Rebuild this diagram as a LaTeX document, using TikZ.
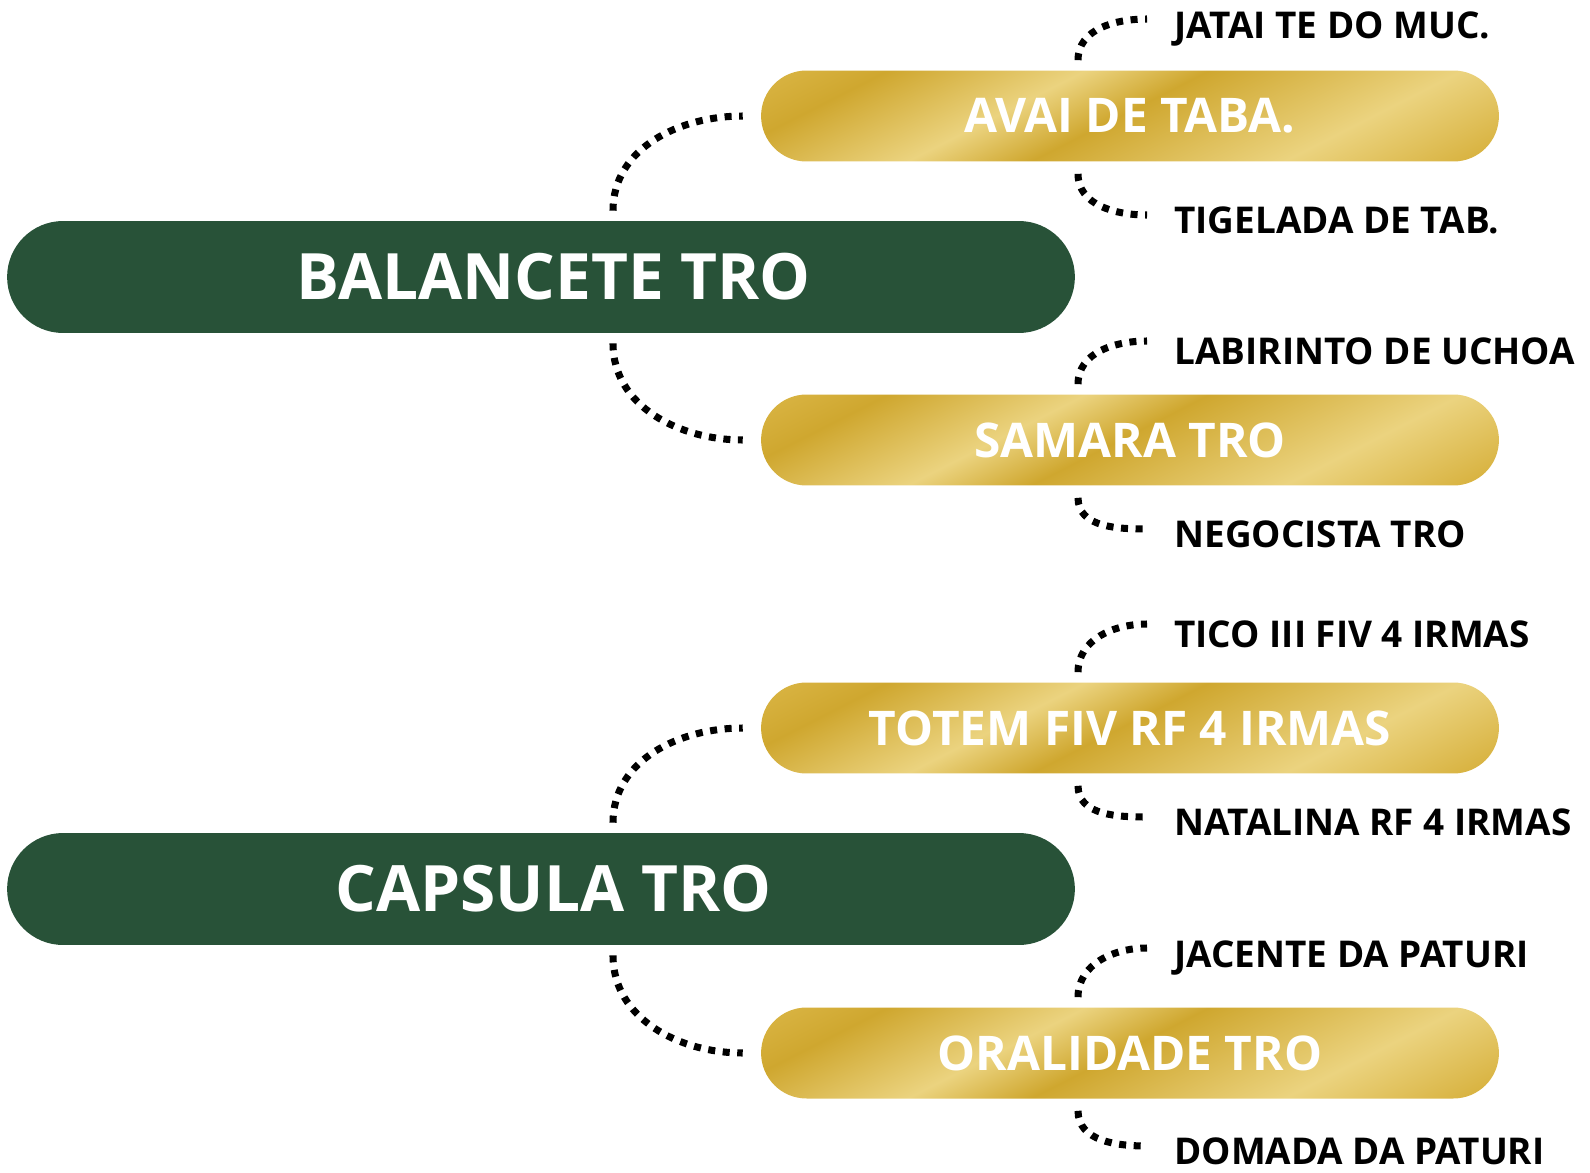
\documentclass[tikz,border=0pt]{standalone}
\usepackage{fontspec}
\setmainfont{Open Sans}
\usetikzlibrary{shapes.misc}

\definecolor{pine}{HTML}{285238}
\definecolor{golddark}{HTML}{CFA72F}
\definecolor{goldlight}{HTML}{EBD37F}
\definecolor{goldmid}{HTML}{D9B443}
\pgfdeclarehorizontalshading{goldbands}{100bp}{color(0bp)=(goldmid); color(37.5bp)=(goldmid);
  color(40.6bp)=(golddark); color(46.2bp)=(goldlight); color(49.7bp)=(golddark);
  color(56.9bp)=(goldlight); color(61.9bp)=(goldmid); color(100bp)=(goldmid)}

\begin{document}
\begin{tikzpicture}
    [x=0.02cm,y=-0.02cm,
    root/.style={rounded rectangle,fill=pine,minimum width=21.36cm,minimum height=2.24cm,
      inner sep=0pt,text=white,font=\fontsize{36.4}{40}\selectfont\bfseries,
      execute at begin node=\hspace*{0.5cm}},
    branch/.style={rounded rectangle,minimum width=14.76cm,minimum height=1.82cm,
      inner sep=0pt,text=white,font=\fontsize{27.2}{30}\selectfont\bfseries,
      path picture={\shade[shading=goldbands,shading angle=-63]
        ([shift={(-8cm,-8cm)}]path picture bounding box.center) rectangle
        ([shift={(8cm,8cm)}]path picture bounding box.center);}},
    leaf/.style={anchor=west,inner sep=0pt,font=\fontsize{21}{24}\selectfont\bfseries},
    dots/.style={line width=4pt,dash pattern=on 4pt off 4.3pt}]

    %\draw[help lines] (0,0) grid[step=100] (1590,1173);
    \useasboundingbox (0,0) rectangle (1590,1173);

    \node[root] (bal) at (541,277) {BALANCETE TRO};
    \node[root] (cap) at (541,889) {CAPSULA TRO};

    \node[branch] (avai)   at (1130,116)  {AVAI DE TABA.};
    \node[branch] (samara) at (1130,440)  {SAMARA TRO};
    \node[branch] (totem)  at (1130,728)  {TOTEM FIV RF 4 IRMAS};
    \node[branch] (oral)   at (1130,1053) {ORALIDADE TRO};

    \node[leaf] (jatai) at (1174,29)   {JATAI TE DO MUC.};
    \node[leaf] (tige)  at (1174,220)  {TIGELADA DE TAB.};
    \node[leaf] (labi)  at (1174,351)  {LABIRINTO DE UCHOA};
    \node[leaf] (nego)  at (1174,534)  {NEGOCISTA TRO};
    \node[leaf] (tico)  at (1174,634)  {TICO III FIV 4 IRMAS};
    \node[leaf] (nata)  at (1174,822)  {NATALINA RF 4 IRMAS};
    \node[leaf] (jace)  at (1174,958)  {JACENTE DA PATURI};
    \node[leaf] (doma)  at (1174,1151) {DOMADA DA PATURI};

    % root -> branch
    \draw[dots] ([xshift=1.44cm,yshift=0.2cm]bal.north) to[out=90,in=180] ([xshift=-0.36cm]avai.west);
    \draw[dots] ([xshift=1.44cm,yshift=-0.2cm]bal.south) to[out=-90,in=180] ([xshift=-0.36cm]samara.west);
    \draw[dots] ([xshift=1.44cm,yshift=0.2cm]cap.north) to[out=90,in=180] ([xshift=-0.36cm]totem.west);
    \draw[dots] ([xshift=1.44cm,yshift=-0.2cm]cap.south) to[out=-90,in=180] ([xshift=-0.36cm]oral.west);

    % branch -> leaf
    \draw[dots] ([xshift=-1.04cm,yshift=0.2cm]avai.north) to[out=90,in=180] ([xshift=-0.54cm,yshift=0.2cm]jatai.west);
    \draw[dots] ([xshift=-1.04cm,yshift=-0.24cm]avai.south) to[out=-90,in=180] ([xshift=-0.54cm,yshift=0.1cm]tige.west);
    \draw[dots] ([xshift=-1.04cm,yshift=0.2cm]samara.north) to[out=90,in=180] ([xshift=-0.54cm,yshift=0.2cm]labi.west);
    \draw[dots] ([xshift=-1.04cm,yshift=-0.24cm]samara.south) to[out=-90,in=180] ([xshift=-0.54cm,yshift=0.1cm]nego.west);
    \draw[dots] ([xshift=-1.04cm,yshift=0.2cm]totem.north) to[out=90,in=180] ([xshift=-0.54cm,yshift=0.2cm]tico.west);
    \draw[dots] ([xshift=-1.04cm,yshift=-0.24cm]totem.south) to[out=-90,in=180] ([xshift=-0.54cm,yshift=0.1cm]nata.west);
    \draw[dots] ([xshift=-1.04cm,yshift=0.2cm]oral.north) to[out=90,in=180] ([xshift=-0.54cm,yshift=0.2cm]jace.west);
    \draw[dots] ([xshift=-1.04cm,yshift=-0.24cm]oral.south) to[out=-90,in=180] ([xshift=-0.54cm,yshift=0.1cm]doma.west);
\end{tikzpicture}
\end{document}
